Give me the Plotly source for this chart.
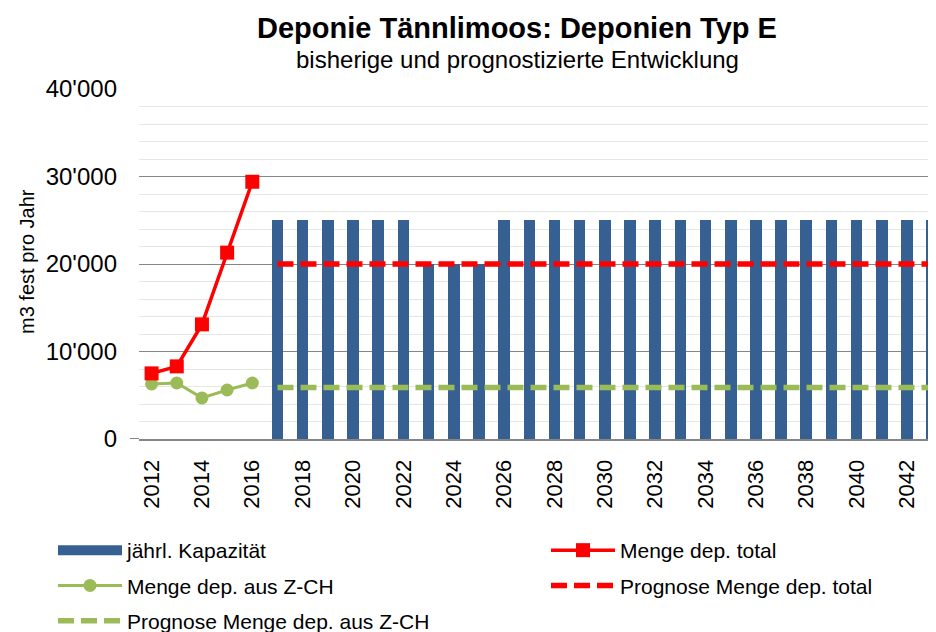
import plotly.graph_objects as go

years = list(range(2012, 2044))
kapazitaet = [None] * 5 + [25000] * 6 + [20000] * 3 + [25000] * 18
menge_total_years = [2012, 2013, 2014, 2015, 2016]
menge_total = [7500, 8300, 13100, 21300, 29400]
menge_zch = [6300, 6400, 4700, 5600, 6400]
prognose_years = list(range(2017, 2044))
prognose_total = [20000] * len(prognose_years)
prognose_zch = [5900] * len(prognose_years)
y_ticks = [0, 10000, 20000, 30000, 40000]
x_ticks = list(range(2012, 2044, 2))

FONT = "Liberation Sans, Arial, sans-serif"
BLUE = "#376092"
RED = "#FF0000"
GREEN = "#9BBB59"

OFF = 8  # page offset of the figure
PL, PT, PW, PH = 131, 81, 805, 350
PB = PT + PH


def px_x(x):
    return (x - OFF - PL) / PW


def px_y(y):
    return (PB - (y - OFF)) / PH


fig = go.Figure()
fig.add_trace(go.Bar(
    x=years, y=kapazitaet, name="jährl. Kapazität", width=0.46,
    marker=dict(color=BLUE, line=dict(width=0)), showlegend=False))
# legend proxy so the legend key is a wide band like the original
fig.add_trace(go.Scatter(
    x=[None], y=[None], name="jährl. Kapazität", mode="lines",
    line=dict(color=BLUE, width=10), legend="legend", legendrank=1, legendgroup="a",
    hoverinfo="skip"))
fig.add_trace(go.Scatter(
    x=prognose_years, y=prognose_zch, name="Prognose Menge dep. aus Z-CH", mode="lines",
    line=dict(color=GREEN, width=5.5, dash="16px,7px"), legend="legend", legendrank=3,
    legendgroup="c"))
fig.add_trace(go.Scatter(
    x=prognose_years, y=prognose_total, name="Prognose Menge dep. total", mode="lines",
    line=dict(color=RED, width=5.5, dash="16px,7px"), legend="legend2", legendrank=2,
    legendgroup="e"))
fig.add_trace(go.Scatter(
    x=menge_total_years, y=menge_zch, name="Menge dep. aus Z-CH", mode="lines+markers",
    line=dict(color=GREEN, width=3), marker=dict(symbol="circle", size=13, color=GREEN),
    legend="legend", legendrank=2, legendgroup="b"))
fig.add_trace(go.Scatter(
    x=menge_total_years, y=menge_total, name="Menge dep. total", mode="lines+markers",
    line=dict(color=RED, width=3.5), marker=dict(symbol="square", size=14, color=RED),
    legend="legend2", legendrank=1, legendgroup="d"))

fig.update_layout(
    width=936, height=632,
    margin=dict(l=PL, r=0, t=PT, b=632 - PB, autoexpand=False),
    paper_bgcolor="white", plot_bgcolor="white",
    separators=".'",
    font=dict(family=FONT, color="black"),
    showlegend=True,
    bargap=0,
    legend=dict(
        xref="container", yref="container", x=45 / 936, y=1 - 522 / 632,
        xanchor="left", yanchor="top", orientation="v",
        font=dict(size=21, family=FONT), traceorder="grouped", tracegroupgap=5,
        itemwidth=64, bgcolor="rgba(0,0,0,0)"),
    legend2=dict(
        xref="container", yref="container", x=538 / 936, y=1 - 522 / 632,
        xanchor="left", yanchor="top", orientation="v",
        font=dict(size=21, family=FONT), traceorder="grouped", tracegroupgap=5,
        itemwidth=64, bgcolor="rgba(0,0,0,0)"),
    xaxis=dict(
        range=[2011.5, 2011.5 + PW / 25.18], tickmode="array", tickvals=x_ticks,
        ticktext=[str(v) for v in x_ticks], tickangle=-90,
        tickfont=dict(size=22, family=FONT), showgrid=False, zeroline=False,
        showline=True, linecolor="#868686", linewidth=2, ticks="",
        ticklabelstandoff=10, fixedrange=True, automargin=False),
    yaxis=dict(
        range=[0, 40000], tickmode="array", tickvals=y_ticks,
        tickformat=",d", tickfont=dict(size=24, family=FONT),
        showgrid=True, gridcolor="#868686", gridwidth=1.3, zeroline=False,
        showline=False, ticks="", ticklabelstandoff=21,
        minor=dict(dtick=2000, showgrid=True, gridcolor="#E6E6E6", gridwidth=1.3),
        fixedrange=True, automargin=False),
    annotations=[
        dict(text="<b>Deponie Tännlimoos: Deponien Typ E</b>", xref="paper", yref="paper",
             x=px_x(517), y=px_y(28), xanchor="center", yanchor="middle",
             showarrow=False, font=dict(size=29, family=FONT)),
        dict(text="bisherige und prognostizierte Entwicklung", xref="paper", yref="paper",
             x=px_x(517), y=px_y(59), xanchor="center", yanchor="middle",
             showarrow=False, font=dict(size=24, family=FONT)),
        dict(text="m3 fest pro Jahr", xref="paper", yref="paper",
             x=px_x(27), y=px_y(262), xanchor="center", yanchor="middle",
             textangle=-90, showarrow=False, font=dict(size=20, family=FONT)),
    ],
    shapes=[
        dict(type="line", xref="paper", yref="y", x0=px_x(130), x1=0, y0=0, y1=0,
             line=dict(color="#868686", width=2)),
    ],
)

fig.write_html("out.html")
